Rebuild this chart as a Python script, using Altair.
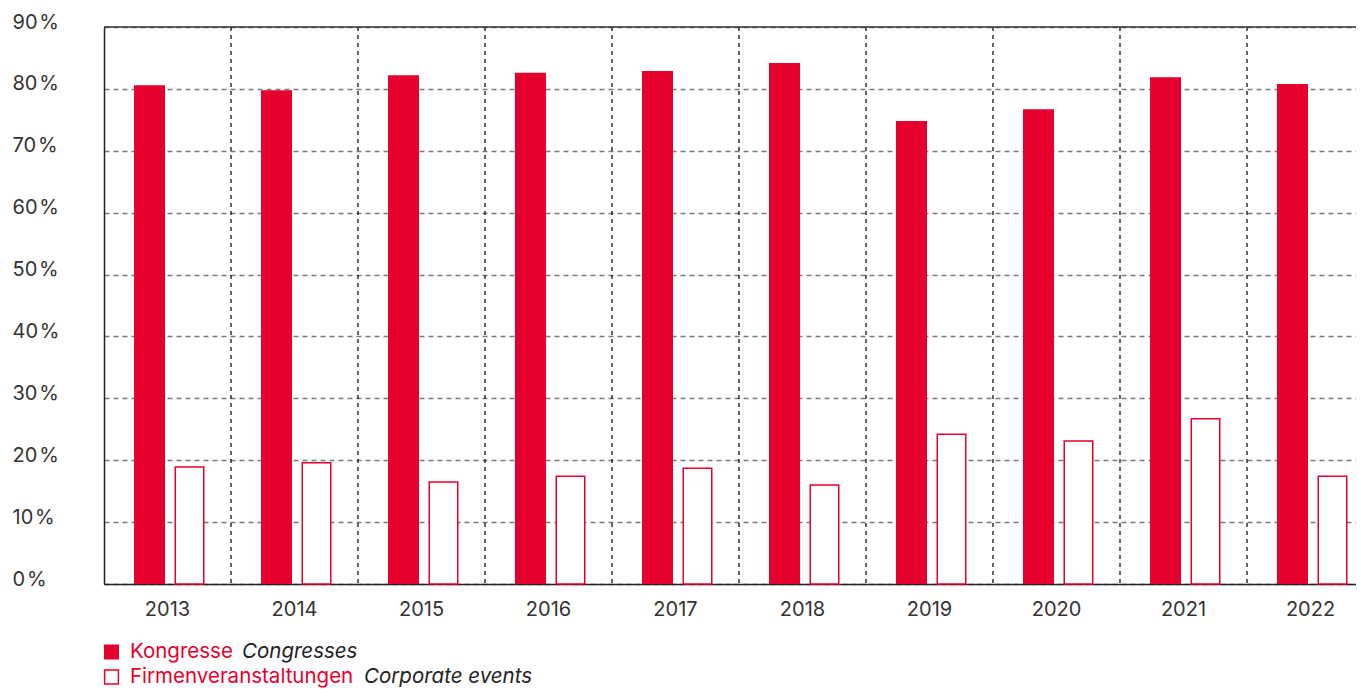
import altair as alt
import pandas as pd

years = ["2013", "2014", "2015", "2016", "2017", "2018", "2019", "2020", "2021", "2022"]
congresses = [80.6, 79.8, 82.2, 82.6, 82.9, 84.2, 74.8, 76.7, 81.9, 80.8]
corporate = [18.9, 19.6, 16.5, 17.4, 18.7, 16.0, 24.2, 23.1, 26.7, 17.4]
series_de = ["Kongresse", "Firmenveranstaltungen"]
series_en = ["Congresses", "Corporate events"]
y_ticks = [0, 10, 20, 30, 40, 50, 60, 70, 80, 90]
y_max = 90

RED = "#E6002D"
FONT = "Inter"
TXT = "#333333"

df = pd.DataFrame({"year": years, "congress": congresses, "corporate": corporate})
grid_df = pd.DataFrame({"year": years[1:]})

xscale = alt.Scale(range=[0, 1270], paddingInner=0, paddingOuter=0)
xaxis = alt.Axis(title=None, labelAngle=0, grid=False, domain=True, domainColor="#222222",
                 domainWidth=1.5, ticks=False, tickSize=0, labelPadding=25,
                 labelBaseline="middle", labelFontSize=20, labelFont=FONT, labelColor=TXT)
yscale = alt.Scale(domain=[0, y_max], nice=False)
yaxis = alt.Axis(title=None, values=y_ticks, labelExpr="datum.value + '\u200a%'", grid=True,
                 gridDash=[5, 4], gridColor="#7a7a7a", gridWidth=1.5, domain=True,
                 domainColor="#222222", domainWidth=1.5, ticks=False, tickSize=0,
                 labelAlign="left", labelPadding=92, labelBaseline="middle", labelOffset=-5,
                 labelFontSize=20, labelFont=FONT, labelColor=TXT)

vgrid = alt.Chart(grid_df).mark_rule(strokeDash=[4, 4], color="#111111", strokeWidth=1.3,
                                     xOffset=-63.5).encode(
    x=alt.X("year:N", scale=xscale, axis=xaxis))

cong = alt.Chart(df).mark_bar(color=RED, size=31, xOffset=-18).encode(
    x=alt.X("year:N", scale=xscale, axis=xaxis),
    y=alt.Y("congress:Q", scale=yscale, axis=yaxis))

corp = alt.Chart(df).mark_bar(fill="white", stroke=RED, strokeWidth=1.5, size=28.5,
                              xOffset=22).encode(
    x=alt.X("year:N", scale=xscale, axis=xaxis),
    y=alt.Y("corporate:Q", scale=yscale, axis=yaxis))

top = alt.Chart(pd.DataFrame({"v": [y_max]})).mark_rule(color="#333333", strokeWidth=1.5).encode(
    y=alt.Y("v:Q", scale=yscale, axis=yaxis), x=alt.value(0), x2=alt.value(1270))

one = pd.DataFrame({"de": [series_de[0]], "en": [series_en[0]]})
two = pd.DataFrame({"de": [series_de[1]], "en": [series_en[1]]})

sq1 = alt.Chart(one).mark_square(size=225, color=RED, opacity=1).encode(
    x=alt.value(7.5), y=alt.value(625))
sq2 = alt.Chart(two).mark_square(size=190, filled=False, stroke=RED, strokeWidth=1.5, opacity=1).encode(
    x=alt.value(7.5), y=alt.value(650))
t1 = alt.Chart(one).mark_text(align="left", baseline="middle", fontSize=20.5, font=FONT, color=RED).encode(
    x=alt.value(26), y=alt.value(625), text="de:N")
t2 = alt.Chart(two).mark_text(align="left", baseline="middle", fontSize=20.5, font=FONT, color=RED).encode(
    x=alt.value(26), y=alt.value(650), text="de:N")
e1 = alt.Chart(one).mark_text(align="left", baseline="middle", fontSize=20.5, font=FONT, color="#222222",
                              fontStyle="italic").encode(
    x=alt.value(138), y=alt.value(625), text="en:N")
e2 = alt.Chart(two).mark_text(align="left", baseline="middle", fontSize=20.5, font=FONT, color="#222222",
                              fontStyle="italic").encode(
    x=alt.value(260), y=alt.value(650), text="en:N")

chart = alt.layer(vgrid, cong, corp, top, sq1, sq2, t1, t2, e1, e2).properties(
    width=1252, height=557,
    autosize=alt.AutoSizeParams(type="none"),
    padding={"left": 96, "top": 19, "right": 0, "bottom": 105},
).configure_view(stroke=None).configure(background="white")

chart.save("out.html", embed_options={"renderer": "svg", "actions": False})
